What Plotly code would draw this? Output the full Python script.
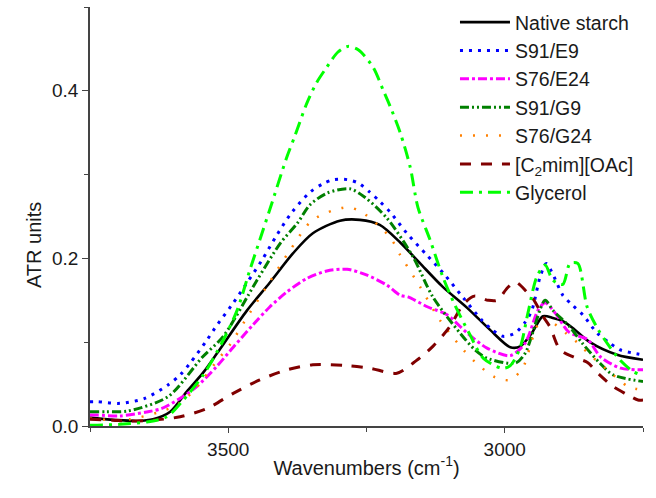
import plotly.graph_objects as go

# ATR-FTIR spectra, O-H / C-H stretching region
native_wn = [3750, 3700, 3665, 3636, 3605, 3575, 3545, 3520, 3466, 3425, 3383, 3347, 3298, 3262, 3226,
             3189, 3153, 3112, 3068, 3027, 2990, 2972, 2951, 2931, 2913, 2895, 2877, 2846, 2797, 2750]
native_abs = [0.010, 0.007, 0.006, 0.008, 0.017, 0.041, 0.064, 0.087, 0.138, 0.171, 0.206, 0.230, 0.245, 0.246, 0.240,
              0.219, 0.194, 0.166, 0.141, 0.115, 0.094, 0.095, 0.111, 0.131, 0.129, 0.125, 0.117, 0.100, 0.085, 0.079]

s91e9_wn = [3750, 3737, 3696, 3651, 3609, 3587, 3569, 3538, 3524, 3494, 3466, 3439, 3412, 3385, 3352, 3329, 3309,
            3285, 3265, 3244, 3226, 3207, 3177, 3141, 3108, 3075, 3041, 3023, 3003, 2981, 2963, 2951, 2936, 2925,
            2915, 2895, 2877, 2858, 2833, 2810, 2792, 2768, 2750]
s91e9_abs = [0.029, 0.029, 0.027, 0.033, 0.049, 0.061, 0.075, 0.103, 0.117, 0.144, 0.171, 0.198, 0.228, 0.255, 0.279,
             0.289, 0.294, 0.294, 0.290, 0.279, 0.268, 0.255, 0.230, 0.204, 0.180, 0.153, 0.126, 0.115, 0.107, 0.111,
             0.124, 0.138, 0.178, 0.194, 0.184, 0.156, 0.144, 0.132, 0.111, 0.099, 0.091, 0.087, 0.085]

s76e24_wn = [3750, 3737, 3696, 3645, 3620, 3587, 3557, 3521, 3491, 3455, 3425, 3394, 3358, 3322, 3285, 3249, 3213,
             3189, 3175, 3139, 3105, 3068, 3032, 2990, 2963, 2940, 2927, 2909, 2884, 2850, 2826, 2790, 2750]
s76e24_abs = [0.013, 0.013, 0.012, 0.017, 0.021, 0.033, 0.047, 0.071, 0.094, 0.121, 0.142, 0.160, 0.176, 0.185, 0.187,
              0.180, 0.168, 0.156, 0.154, 0.142, 0.133, 0.111, 0.093, 0.084, 0.099, 0.138, 0.147, 0.135, 0.112, 0.103,
              0.082, 0.069, 0.067]

s91g9_wn = [3750, 3720, 3681, 3609, 3547, 3509, 3448, 3406, 3375, 3352, 3321, 3280, 3253, 3213, 3166, 3130, 3081,
            3054, 3032, 2981, 2963, 2927, 2913, 2882, 2860, 2828, 2804, 2750]
s91g9_abs = [0.017, 0.017, 0.018, 0.035, 0.082, 0.107, 0.174, 0.218, 0.242, 0.264, 0.278, 0.283, 0.273, 0.248, 0.202,
             0.154, 0.111, 0.091, 0.081, 0.075, 0.087, 0.150, 0.138, 0.118, 0.099, 0.075, 0.061, 0.053]

s76g24_wn = [3750, 3709, 3678, 3623, 3593, 3564, 3519, 3497, 3461, 3425, 3388, 3347, 3285, 3256, 3207, 3189, 3153,
             3117, 3075, 3048, 3017, 2990, 2967, 2949, 2933, 2915, 2888, 2864, 2851, 2804, 2777, 2750]
s76g24_abs = [0.009, 0.007, 0.008, 0.017, 0.025, 0.041, 0.079, 0.097, 0.135, 0.172, 0.210, 0.246, 0.261, 0.254, 0.225,
              0.204, 0.166, 0.126, 0.091, 0.073, 0.058, 0.055, 0.070, 0.106, 0.129, 0.124, 0.110, 0.097, 0.088, 0.061,
              0.047, 0.043]

emimoac_wn = [3750, 3709, 3680, 3636, 3587, 3538, 3491, 3443, 3394, 3347, 3285, 3244, 3195, 3160, 3130, 3100, 3075,
              3055, 3030, 3014, 2995, 2981, 2960, 2949, 2930, 2918, 2900, 2875, 2851, 2830, 2804, 2780, 2759, 2750]
emimoac_abs = [0.008, 0.007, 0.006, 0.007, 0.011, 0.021, 0.039, 0.055, 0.067, 0.073, 0.072, 0.069, 0.063, 0.078, 0.095,
               0.118, 0.145, 0.155, 0.150, 0.150, 0.165, 0.172, 0.160, 0.152, 0.130, 0.118, 0.091, 0.082, 0.076, 0.062,
               0.047, 0.038, 0.031, 0.031]

glycerol_wn = [3750, 3737, 3696, 3645, 3611, 3584, 3545, 3511, 3484, 3461, 3443, 3425, 3394, 3379, 3358, 3340, 3322,
               3302, 3284, 3265, 3238, 3220, 3207, 3189, 3171, 3157, 3135, 3112, 3090, 3063, 3039, 3005, 2990, 2972,
               2958, 2942, 2927, 2913, 2895, 2882, 2868, 2851, 2831, 2813, 2792, 2768, 2750]
glycerol_abs = [0.001, 0.001, 0.002, 0.005, 0.011, 0.029, 0.061, 0.100, 0.138, 0.186, 0.222, 0.258, 0.321, 0.347,
                0.385, 0.410, 0.428, 0.446, 0.453, 0.449, 0.428, 0.401, 0.381, 0.350, 0.309, 0.261, 0.222, 0.178,
                0.144, 0.109, 0.081, 0.069, 0.072, 0.094, 0.135, 0.178, 0.192, 0.174, 0.169, 0.194, 0.194, 0.142,
                0.115, 0.097, 0.079, 0.065, 0.060]

series = [
    ("Native starch", native_wn, native_abs, "#000000", "solid", 2.6),
    ("S91/E9", s91e9_wn, s91e9_abs, "#0000FF", "3px,6px", 3),
    ("S76/E24", s76e24_wn, s76e24_abs, "#FF00FF", "9px,3px,3px,3px", 3),
    ("S91/G9", s91g9_wn, s91g9_abs, "#008000", "9px,3px,2px,3px,2px,3px", 3),
    ("S76/G24", s76g24_wn, s76g24_abs, "#FF8000", "2px,11px", 2.5),
    ("[C<sub>2</sub>mim][OAc]", emimoac_wn, emimoac_abs, "#800000", "11px,10px", 3),
    ("Glycerol", glycerol_wn, glycerol_abs, "#00FF00", "13px,6px,3px,6px", 3),
]

FONT = "Liberation Sans, Arial, sans-serif"

fig = go.Figure()
for name, wn, ab, color, dash, width in series:
    fig.add_trace(go.Scatter(
        x=wn, y=ab, name=name, mode="lines",
        line=dict(color=color, dash=dash, width=width, shape="spline", smoothing=0.8),
    ))

fig.update_layout(
    width=656, height=498,
    margin=dict(l=90, r=13, t=7, b=72, autoexpand=False),
    paper_bgcolor="white", plot_bgcolor="white",
    font=dict(family=FONT, size=19, color="#1a1a1a"),
    showlegend=True,
    legend=dict(
        x=0.66, y=0.994, xanchor="left", yanchor="top", yref="container",
        bgcolor="rgba(0,0,0,0)", borderwidth=0,
        font=dict(family=FONT, size=19.5, color="#1a1a1a"),
        itemwidth=50, tracegroupgap=0,
    ),
    xaxis=dict(
        range=[3750, 2750],
        tick0=3000, dtick=500,
        ticks="outside", ticklen=5, tickwidth=1.3, tickcolor="#444",
        minor=dict(dtick=250, ticks="outside", ticklen=4, tickwidth=1.3, tickcolor="#444"),
        showline=True, linecolor="#444", linewidth=1.5,
        showgrid=False, zeroline=False,
        tickfont=dict(family=FONT, size=19),
        title=dict(text="Wavenumbers (cm<sup>-1</sup>)", font=dict(family=FONT, size=20), standoff=2),
    ),
    yaxis=dict(
        range=[0, 0.5],
        tick0=0, dtick=0.2, tickformat=".1f",
        ticks="outside", ticklen=6, tickwidth=1.3, tickcolor="#444",
        minor=dict(dtick=0.1, ticks="outside", ticklen=4, tickwidth=1.3, tickcolor="#444"),
        showline=True, linecolor="#444", linewidth=1.5,
        showgrid=False, zeroline=False,
        tickfont=dict(family=FONT, size=19),
    ),
    annotations=[dict(
        text="ATR units", textangle=-90,
        xref="paper", yref="paper",
        x=-56 / 553, y=(426 - 245) / 419,
        xanchor="center", yanchor="middle", showarrow=False,
        font=dict(family=FONT, size=20, color="#1a1a1a"),
    )],
)

fig.write_html("out.html")
